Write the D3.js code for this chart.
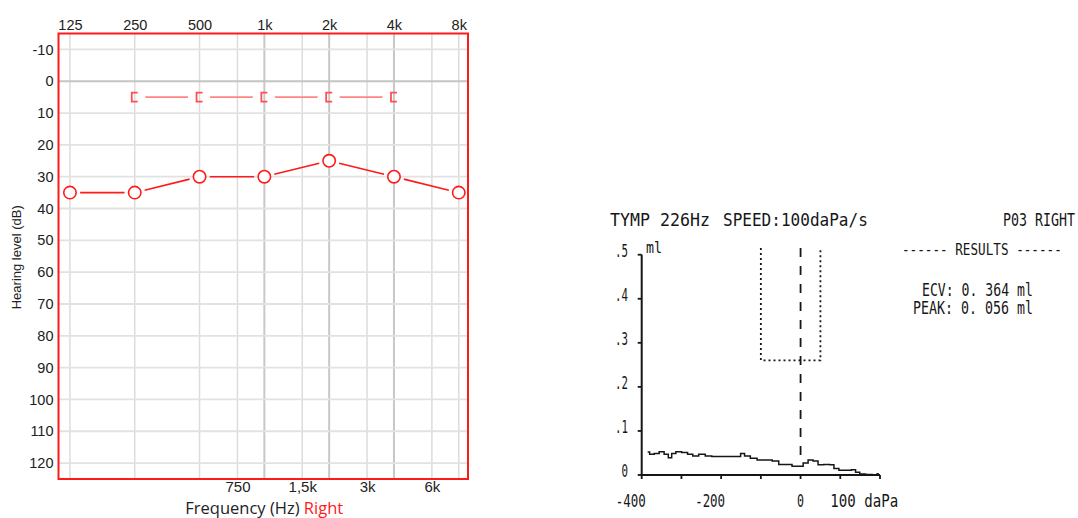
<!DOCTYPE html>
<html><head><meta charset="utf-8">
<script src="https://cdn.jsdelivr.net/npm/d3@7"></script>
<style>
html,body{margin:0;padding:0;background:#fff;}
svg{display:block;}
</style></head>
<body>
<svg id="c" width="1078" height="518"></svg>
<script>
// ---------- Audiogram data ----------
const freqs = [125, 250, 500, 1000, 2000, 4000, 8000];
const freqLabels = ["125", "250", "500", "1k", "2k", "4k", "8k"];
const midFreqs = [750, 1500, 3000, 6000];
const midLabels = ["750", "1,5k", "3k", "6k"];
const dbTicks = [-10, 0, 10, 20, 30, 40, 50, 60, 70, 80, 90, 100, 110, 120];
const airRight = [35, 35, 30, 30, 25, 30, 35];           // circles, per freqs
const boneFreqs = [250, 500, 1000, 2000, 4000];
const boneRight = [5, 5, 5, 5, 5];                      // "[" markers

// ---------- Tympanogram data ----------
const tympTicksX = [-400, -300, -200, -100, 0, 100, 200];
const tympLabelsX = [-400, -200, 0, 100];
const tympTicksY = [0, 0.1, 0.2, 0.3, 0.4, 0.5];
const tympLabelsY = ["0", ".1", ".2", ".3", ".4", ".5"];
const tympPressure = [-385,-375,-362,-350,-337,-329,-320,-308,-291,-278,-265,-248,-232,-215,-195,-175,-155,-147,-135,-118,-101,-80,-63,-47,-30,-13,0,13,25,38,50,67,80,88,105,122,134,143,155,172,189,197];
const tympCompliance = [0.052,0.047,0.049,0.053,0.047,0.039,0.049,0.053,0.051,0.047,0.043,0.047,0.043,0.042,0.042,0.042,0.042,0.049,0.043,0.038,0.034,0.034,0.032,0.024,0.024,0.020,0.020,0.027,0.034,0.032,0.023,0.024,0.023,0.015,0.011,0.011,0.012,0.006,0.002,0.001,0.000,0.003];
const normBoxPressure = [-100, 50];
const normBoxCompliance = [0.26, 0.515];
const peakPressure = 0;
const peakLineRange = [0.045, 0.515];

const svg = d3.select("#c");

// ================= AUDIOGRAM =================
const x = d3.scaleLog().base(2).domain([110.6, 8830]).range([58.5, 468]);
const y = d3.scaleLinear().domain([-15, 125]).range([33.5, 479]);
const [x0, x1] = x.range(), [y0, y1] = y.range();
const sansA = "'Liberation Sans', Arial, sans-serif";
const sansB = "'Open Sans', sans-serif";

const grid = svg.append("g");
const darkV = new Set([1000, 2000, 4000]);
grid.selectAll("line.v").data(freqs.concat(midFreqs)).join("line")
  .attr("x1", d => x(d)).attr("x2", d => x(d)).attr("y1", y0).attr("y2", y1)
  .attr("stroke", d => darkV.has(d) ? "#c8c8c8" : "#dcdcdc")
  .attr("stroke-width", d => darkV.has(d) ? 2 : 1.5);
grid.selectAll("line.h").data(dbTicks).join("line")
  .attr("x1", x0).attr("x2", x1).attr("y1", d => y(d)).attr("y2", d => y(d))
  .attr("stroke", d => d === 0 ? "#c4c4c4" : "#e2e2e2")
  .attr("stroke-width", d => d === 0 ? 2 : 1.8);

svg.append("rect").attr("x", x0).attr("y", y0).attr("width", x1 - x0).attr("height", y1 - y0)
  .attr("fill", "none").attr("stroke", "#ff1a1a").attr("stroke-width", 2);

// top freq labels
const topAxis = d3.axisTop(x).tickValues(freqs).tickFormat((d, i) => freqLabels[i]).tickSize(0).tickPadding(0);
const gTop = svg.append("g").attr("transform", `translate(0,${y0 - 4})`).call(topAxis);
gTop.select(".domain").remove();
gTop.selectAll("text").attr("font-family", sansA).attr("font-size", 14.5).attr("fill", "#222");

// y labels
const leftAxis = d3.axisLeft(y).tickValues(dbTicks).tickFormat(d => String(d)).tickSize(0).tickPadding(0);
const gLeft = svg.append("g").attr("transform", `translate(${x0 - 5},0)`).call(leftAxis);
gLeft.select(".domain").remove();
gLeft.selectAll("text").attr("font-family", sansA).attr("font-size", 14.5).attr("fill", "#222");

// bottom mid labels
const botAxis = d3.axisBottom(x).tickValues(midFreqs).tickFormat((d, i) => midLabels[i]).tickSize(0).tickPadding(0);
const gBot = svg.append("g").attr("transform", `translate(0,${y1})`).call(botAxis);
gBot.select(".domain").remove();
gBot.selectAll("text").attr("font-family", sansA).attr("font-size", 15).attr("fill", "#222")
  .attr("dy", null).attr("y", 13);

// x title
const xt = svg.append("text").attr("x", (x0 + x1) / 2 + 1).attr("y", 513.5)
  .attr("text-anchor", "middle").attr("font-family", sansB).attr("font-size", 16.5);
xt.append("tspan").attr("fill", "#222").text("Frequency (Hz) ");
xt.append("tspan").attr("fill", "#ff1a1a").text("Right");

// y title
svg.append("text").attr("transform", `translate(21,${(y0 + y1) / 2 + 1}) rotate(-90)`)
  .attr("text-anchor", "middle").attr("font-family", sansA).attr("font-size", 13).attr("fill", "#222")
  .text("Hearing level (dB)");

// bone conduction connectors and markers
const bonePts = boneFreqs.map((f, i) => [x(f), y(boneRight[i])]);
const bc = svg.append("g");
bc.selectAll("line").data(d3.pairs(bonePts)).join("line")
  .attr("x1", d => d[0][0] + 10.5).attr("x2", d => d[1][0] - 11.5)
  .attr("y1", d => d[0][1]).attr("y2", d => d[1][1])
  .attr("stroke", "#ff8585").attr("stroke-width", 1.6);
bc.selectAll("path").data(bonePts).join("path")
  .attr("d", d => `M${d[0] + 3},${d[1] - 4.5}H${d[0] - 3}V${d[1] + 4.5}H${d[0] + 3}`)
  .attr("fill", "none").attr("stroke", "#ff5050").attr("stroke-width", 1.8);

// air conduction line + circles
const airPts = freqs.map((f, i) => [x(f), y(airRight[i])]);
const r = 6.2, gap = 4;
const ac = svg.append("g");
ac.selectAll("line").data(d3.pairs(airPts)).join("line")
  .each(function (d) {
    const dx = d[1][0] - d[0][0], dy = d[1][1] - d[0][1], L = Math.hypot(dx, dy);
    const ux = dx / L, uy = dy / L, o = r + gap;
    d3.select(this).attr("x1", d[0][0] + ux * o).attr("y1", d[0][1] + uy * o)
      .attr("x2", d[1][0] - ux * o).attr("y2", d[1][1] - uy * o);
  })
  .attr("stroke", "#ff1a1a").attr("stroke-width", 1.6);
ac.selectAll("circle").data(airPts).join("circle")
  .attr("cx", d => d[0]).attr("cy", d => d[1]).attr("r", r)
  .attr("fill", "#fff").attr("stroke", "#ff1a1a").attr("stroke-width", 1.6);

// ================= TYMPANOGRAM =================
const xT = d3.scaleLinear().domain([-400, 200]).range([641.7, 880]);
const yT = d3.scaleLinear().domain([0, 0.5]).range([475, 254.7]);
const mono = "'DejaVu Sans Mono', monospace";
const ink = "#161616";
const tg = svg.append("g");

// text condensed horizontally to a target width via a scale transform
function tx(xp, yp, s, width, size, anchor) {
  const g = tg.append("g");
  const t = g.append("text").attr("x", 0).attr("y", 0).attr("font-family", mono)
    .attr("font-size", size || 16).attr("fill", ink).text(s);
  const nat = t.node().getComputedTextLength();
  const sx = width / nat;
  const left = anchor === "end" ? xp - width : anchor === "middle" ? xp - width / 2 : xp;
  g.attr("transform", `translate(${left},${yp}) scale(${sx},1)`);
  return t;
}

// header texts
tx(610, 226, "TYMP 226Hz", 100, 17);
tx(723, 226, "SPEED:100daPa/s", 145, 17);
tx(1075, 226, "P03 RIGHT", 72, 17, "end");
tx(902, 255, "------ RESULTS ------", 160, 16);
tx(922, 296, "ECV: 0. 364 ml", 111, 17);
tx(913, 314, "PEAK: 0. 056 ml", 120, 17);

// axes
tg.append("line").attr("x1", xT(-400)).attr("x2", xT(-400)).attr("y1", yT(0)).attr("y2", yT(0.5))
  .attr("stroke", ink).attr("stroke-width", 2);
tg.append("line").attr("x1", xT(-400)).attr("x2", xT(200)).attr("y1", yT(0)).attr("y2", yT(0))
  .attr("stroke", ink).attr("stroke-width", 2);
tg.selectAll("line.ty").data(tympTicksY).join("line").attr("class", "ty")
  .attr("x1", xT(-400) - 4).attr("x2", xT(-400)).attr("y1", d => yT(d)).attr("y2", d => yT(d))
  .attr("stroke", ink).attr("stroke-width", 1.8);
tg.selectAll("line.tx").data(tympTicksX).join("line").attr("class", "tx")
  .attr("x1", d => xT(d)).attr("x2", d => xT(d)).attr("y1", yT(0)).attr("y2", yT(0) + 4)
  .attr("stroke", ink).attr("stroke-width", 1.8);

// y labels
tympTicksY.forEach((v, i) => {
  const s = tympLabelsY[i];
  tx(628, yT(v) + 2, s, s.length * 6.5, 17, "end");
});
tx(646, 253, "ml", 16, 15);

// x labels
tympLabelsX.forEach(v => {
  if (v === 100) tx(xT(v) - 10, 507, "100 daPa", 68, 17);
  else if (v === 0) tx(xT(v), 507, "0", 7, 17, "middle");
  else tx(xT(v) + 4, 507, String(v), 30, 17, "end");
});

// normal region box (dotted)
const bx0 = xT(normBoxPressure[0]), bx1 = xT(normBoxPressure[1]);
const by0 = yT(normBoxCompliance[1]), by1 = yT(normBoxCompliance[0]);
tg.append("path").attr("d", `M${bx0},${by0}V${by1}H${bx1}V${by0}`)
  .attr("fill", "none").attr("stroke", ink).attr("stroke-width", 1.8).attr("stroke-dasharray", "2,3");

// peak dashed line
tg.append("line").attr("x1", xT(peakPressure)).attr("x2", xT(peakPressure))
  .attr("y1", yT(peakLineRange[1])).attr("y2", yT(peakLineRange[0]))
  .attr("stroke", ink).attr("stroke-width", 1.8).attr("stroke-dasharray", "9,9");

// curve
const curve = d3.line().x(d => xT(d[0])).y(d => yT(d[1])).curve(d3.curveStep);
tg.append("path").datum(tympPressure.map((p, i) => [p, tympCompliance[i]]))
  .attr("d", curve).attr("fill", "none").attr("stroke", ink).attr("stroke-width", 1.5);
</script>
</body></html>
